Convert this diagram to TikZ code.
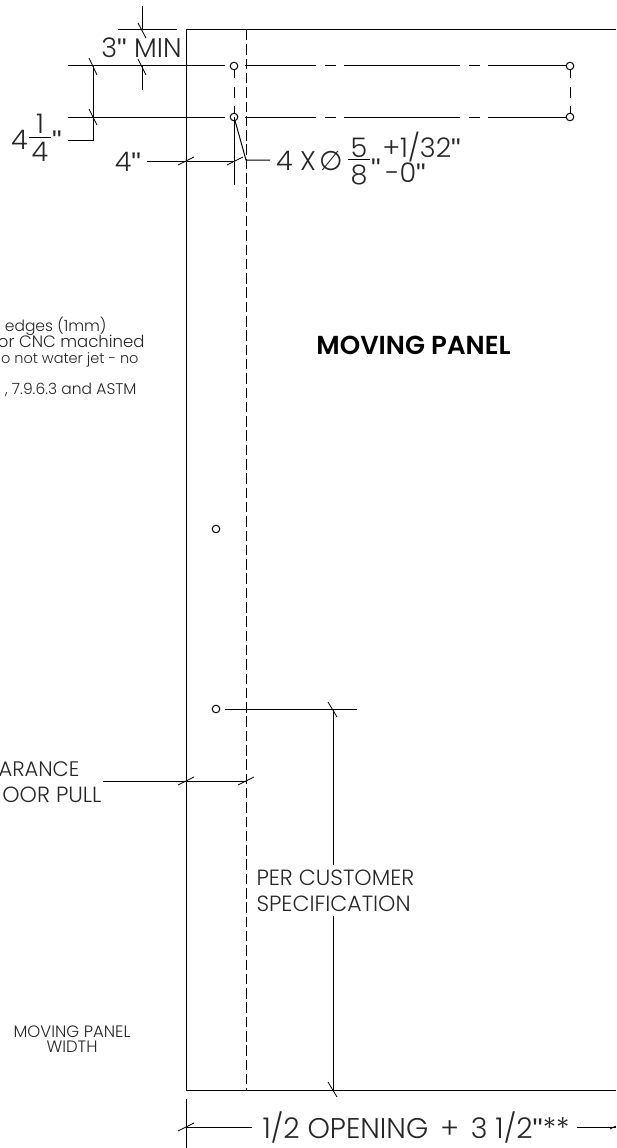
\documentclass[tikz,border=0pt]{standalone}
\usepackage{fontspec}
\setmainfont{Poppins}[UprightFont=* Light,BoldFont=* SemiBold]
\newfontfamily\inchfont{Liberation Sans}
\newcommand{\inchmark}{{\inchfont"}}
\begin{document}
\begin{tikzpicture}[x=1pt,y=-1pt,line width=1pt,
    hole/.style={circle,draw,inner sep=0pt,minimum size=7.6pt,fill=white},
    label node/.style={inner sep=0pt,font=\fontsize{27}{27}\selectfont,text=black!85},
    spec node/.style={inner sep=0pt,font=\fontsize{22}{22}\selectfont,text=black!85},
    small node/.style={inner sep=0pt,font=\fontsize{15.5}{15.5}\selectfont,text=black!85},
    hidden line/.style={dash pattern=on 10.5pt off 3.8pt},
    tick/.style={line width=0.8pt}]
    \useasboundingbox (0,0) rectangle (616,1148);
    % panel outline
    \coordinate (panel tl) at (186,30);
    \coordinate (panel tr) at (616,30);
    \coordinate (panel bl) at (186,1090);
    \coordinate (panel br) at (616,1090);
    \draw (panel tr) -- (panel tl) -- (panel bl) -- (panel br);
    \coordinate (fold top) at (246,30);
    \coordinate (fold bottom) at (246,1090);
    \draw[hidden line] (fold top) -- (fold bottom);
    % holes
    \node[hole] (h1) at (234,66) {};
    \node[hole] (h2) at (234,117) {};
    \node[hole] (h3) at (570,66) {};
    \node[hole] (h4) at (570,117) {};
    \node[hole] (h5) at (216,529) {};
    \node[hole] (h6) at (216,709) {};
    % centre lines
    \foreach \yy/\hb in {66/h3,117/h4} {
        \draw (68,\yy) -- (225,\yy);
        \draw (245,\yy) -- (316,\yy);
        \draw (325,\yy) -- (336,\yy);
        \draw (344,\yy) -- (460,\yy);
        \draw (469,\yy) -- (480,\yy);
        \draw (488,\yy) -- (\hb.west);
    }
    \foreach \xx in {234,570} {
        \draw (\xx,70) -- (\xx,78);
        \draw (\xx,87) -- (\xx,98);
        \draw (\xx,106) -- (\xx,113);
    }
    % 3" min
    \draw (118,30) -- (177,30);
    \draw (118,66) -- (186,66);
    \draw (142,6) -- (142,30);
    \draw (142,66) -- (142,90);
    \draw[tick] (138,23) -- (146,38);
    \draw[tick] (138,59) -- (146,75);
    \node[label node,anchor=base] (min) at (141.5,58) {3\inchmark{} MIN};
    % 4 1/4
    \coordinate (leg) at (93,140);
    \draw (93,66) -- (leg) -- (68,140);
    \draw[tick] (89,58) -- (97,75);
    \draw[tick] (89,109) -- (97,125);
    \node[label node,anchor=base] (four) at (19.5,149) {4};
    \node[label node,anchor=base] (num) at (40,133) {1};
    \node[label node,anchor=base] (den) at (40,161) {4};
    \draw (29,137.5) -- (51,137.5);
    \node[label node,anchor=base] (inch) at (57,149) {\inchmark};
    % 4"
    \node[label node,anchor=base] (fourin) at (128,171) {4\inchmark};
    \draw (147,161) -- (234,161);
    \draw (234,117) -- (234,185);
    \draw[tick] (178,165) -- (194,157);
    \draw[tick] (227,165) -- (243,157);
    % hole callout
    \draw (h2) -- (246,160) -- (270,160);
    \node[label node,anchor=base] (callout) at (296,170) {4 X};
    \node[label node,anchor=base] (dia) at (331,170) {\fontspec{DejaVu Sans}∅};
    \node[label node,anchor=base] (five) at (359,157) {5};
    \node[label node,anchor=base] (eight) at (359,184) {8};
    \draw (348,159.5) -- (370,159.5);
    \node[label node,anchor=base] (inchb) at (376,177) {\inchmark};
    \node[label node,anchor=base west] (plus) at (382,157) {+1/32\inchmark};
    \node[label node,anchor=base west] (minus) at (385,182) {-0\inchmark};
    % labels
    \node[font=\bfseries\fontsize{26}{26}\selectfont,inner sep=0pt] (title) at (413.5,345) {MOVING PANEL};
    \node[small node,anchor=base east] (n1) at (107,331) {edges (1mm)};
    \node[small node,anchor=base east,font=\fontsize{16.5}{16.5}\selectfont] (n2) at (145,347) {or CNC machined};
    \node[small node,anchor=base east,font=\fontsize{14.5}{14.5}\selectfont] (n3) at (139,363) {o not water jet - no};
    \node[small node,anchor=base east] (n4) at (137,394) {, 7.9.6.3 and ASTM};
    \node[small node,font=\fontsize{16.5}{16.5}\selectfont] (w1) at (72,1032) {MOVING PANEL};
    \node[small node,font=\fontsize{16.5}{16.5}\selectfont] (w2) at (72,1047) {WIDTH};
    % clearance
    \node[spec node,anchor=east,font=\fontsize{21}{21}\selectfont] (c1) at (80,769) {ARANCE};
    \node[spec node,anchor=east] (c2) at (102,795) {OOR PULL};
    \draw (103,781) -- (246,781);
    \draw[tick] (178,785) -- (194,777);
    \draw[tick] (238,785) -- (254,777);
    % customer dimension
    \draw (225,709) -- (357,709);
    \node[spec node,anchor=west] (spec1) at (256,878) {PER CUSTOMER};
    \node[spec node,anchor=west] (spec2) at (256,904) {SPECIFICATION};
    \draw (333,709) -- (333,865);
    \draw (333,916) -- (333,1090);
    \draw[tick] (328,702) -- (337,717);
    \draw[tick] (328,1082) -- (337,1097);
    % width dimension
    \draw (186,1099) -- (186,1148);
    \node[label node,font=\fontsize{28.5}{28.5}\selectfont] (open) at (416,1127) {1/2 OPENING\hspace{12pt}+\hspace{12pt}3 1/2\inchmark**};
    \draw (186,1127) -- (252,1127);
    \draw (577,1127) -- (616,1127);
    \draw[tick] (178,1131) -- (194,1123);
    \draw[tick] (610,1129) -- (616,1126);
\end{tikzpicture}
\end{document}
